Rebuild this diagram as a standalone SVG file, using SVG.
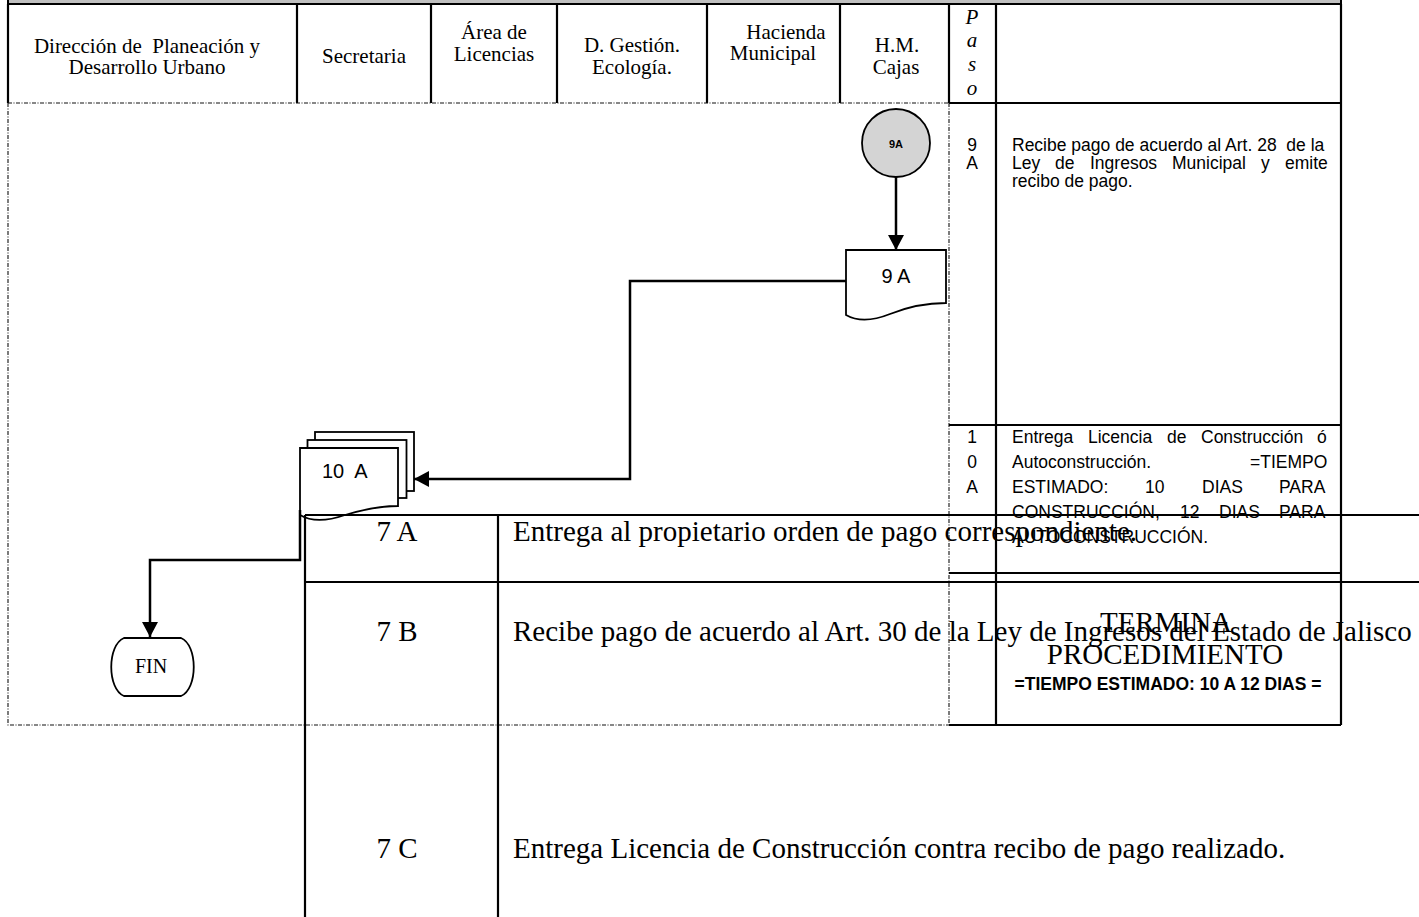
<svg xmlns="http://www.w3.org/2000/svg" width="1419" height="917" viewBox="0 0 1419 917">
<defs>
<style>
.hdr{font-family:"Liberation Serif","Times New Roman",serif;font-size:21px;text-anchor:middle;fill:#000;white-space:pre}
.it{font-style:italic}
.sans{font-family:"Liberation Sans",Arial,sans-serif;font-size:17.5px;fill:#000;white-space:pre}
.mid{text-anchor:middle}
.big{font-family:"Liberation Serif","Times New Roman",serif;font-size:29px;fill:#000;white-space:pre}
.ln{stroke:#000;stroke-width:2.2;fill:none}
.dot{stroke:#111;stroke-width:1.1;stroke-dasharray:4 1.5 1 1.5;fill:none}
.conn{stroke:#000;stroke-width:2.5;fill:none}
.shape{fill:#fff;stroke:#000;stroke-width:1.8}
</style>
<marker id="arr" markerUnits="userSpaceOnUse" markerWidth="16" markerHeight="16" refX="15" refY="8" orient="auto">
<path d="M0,0 L15,8 L0,16 Z" fill="#000"/>
</marker>
</defs>
<rect x="0" y="0" width="1419" height="917" fill="#fff"/>

<g id="header">
<rect x="8" y="-6" width="1333" height="10" fill="#c0c0c0" stroke="#000" stroke-width="2"/>
<path class="ln" d="M8,4 V103 M297,4 V103 M431,4 V103 M557,4 V103 M707,4 V103 M840,4 V103 M949,4 V103 M996,4 V103 M1341,4 V103 M949,103 H1341"/>
<text class="hdr" x="147" y="53">Dirección de  Planeación y</text>
<text class="hdr" x="147" y="74">Desarrollo Urbano</text>
<text class="hdr" x="364" y="63">Secretaria</text>
<text class="hdr" x="494" y="39">Área de</text>
<text class="hdr" x="494" y="61">Licencias</text>
<text class="hdr" x="632" y="52">D. Gestión.</text>
<text class="hdr" x="632" y="74">Ecología.</text>
<text class="hdr" x="786" y="39">Hacienda</text>
<text class="hdr" x="773" y="60">Municipal</text>
<text class="hdr" x="897" y="52">H.M.</text>
<text class="hdr" x="896" y="74">Cajas</text>
<text class="hdr it" x="972" y="24">P</text>
<text class="hdr it" x="972" y="47">a</text>
<text class="hdr it" x="972" y="71">s</text>
<text class="hdr it" x="972" y="95">o</text>
</g>

<g id="lanes">
<path class="dot" d="M8,103 H949 M8,103 V725 H949 M949,103 V725"/>
</g>

<g id="steps-table">
<path class="ln" d="M996,103 V725 M1341,103 V725 M949,425 H1341 M949,573 H1341 M949,725 H1341"/>
<text class="sans mid" x="972" y="151">9</text>
<text class="sans mid" x="972" y="169">A</text>
<text class="sans" x="1012" y="151">Recibe pago de acuerdo al Art. 28  de la</text>
<text class="sans" y="169"><tspan x="1012">Ley</tspan><tspan x="1055">de</tspan><tspan x="1090">Ingresos</tspan><tspan x="1172">Municipal</tspan><tspan x="1261">y</tspan><tspan x="1285">emite</tspan></text>
<text class="sans" x="1012" y="187">recibo de pago.</text>
<text class="sans mid" x="972" y="443">1</text>
<text class="sans mid" x="972" y="468">0</text>
<text class="sans mid" x="972" y="493">A</text>
<text class="sans" y="443"><tspan x="1012">Entrega</tspan><tspan x="1088">Licencia</tspan><tspan x="1167">de</tspan><tspan x="1201">Construcción</tspan><tspan x="1317">ó</tspan></text>
<text class="sans" y="468"><tspan x="1012">Autoconstrucción.</tspan><tspan x="1250">=TIEMPO</tspan></text>
<text class="sans" y="493"><tspan x="1012">ESTIMADO:</tspan><tspan x="1145">10</tspan><tspan x="1202">DIAS</tspan><tspan x="1279">PARA</tspan></text>
<text class="sans" y="518"><tspan x="1012">CONSTRUCCIÓN,</tspan><tspan x="1180">12</tspan><tspan x="1219">DIAS</tspan><tspan x="1279">PARA</tspan></text>
<text class="sans" x="1012" y="543">AUTOCONSTRUCCIÓN.</text>
<text class="big mid" x="1166" y="632">TERMINA</text>
<text class="big mid" x="1165" y="664">PROCEDIMIENTO</text>
<text class="sans mid" x="1168" y="690" style="font-weight:bold">=TIEMPO ESTIMADO: 10 A 12 DIAS =</text>
</g>

<g id="n-9A-connector">
<circle cx="896" cy="143" r="34" fill="#d4d4d4" stroke="#000" stroke-width="1.8"/>
<text class="sans mid" x="896" y="148" style="font-size:11px;font-weight:bold">9A</text>
</g>

<g id="n-9A-doc">
<path class="shape" d="M846,250 H946 V303 C925,303 905,308 890,314 C875,320 860,323 846,315 Z"/>
<text class="sans mid" x="896" y="283" style="font-size:20px">9 A</text>
</g>

<g id="n-10A-docs">
<rect class="shape" x="315" y="432" width="99" height="59"/>
<rect class="shape" x="307.5" y="440" width="99" height="58"/>
<path class="shape" d="M300,448 H398 V506 C380,506 365,509 345,515 C325,522 310,521 300,515 Z"/>
<text class="sans" x="322" y="478" style="font-size:20px">10  A</text>
</g>

<g id="n-FIN">
<path class="shape" d="M124,638 H181 C198,645 198,689 181,696 H124 C107,689 107,645 124,638 Z"/>
<text class="hdr" x="151" y="673" style="font-size:20px">FIN</text>
</g>

<g id="connectors">
<path class="conn" d="M896,177 V250" marker-end="url(#arr)"/>
<path class="conn" d="M846,281 H630 V479 H414" marker-end="url(#arr)"/>
<path class="conn" d="M300,510 V560 H150 V637" marker-end="url(#arr)"/>
</g>

<g id="overlay-table">
<path class="ln" d="M305,515 V917 M498,515 V917 M305,515 H1419 M305,582 H1419"/>
<text class="big mid" x="397" y="541">7 A</text>
<text class="big" x="513" y="541">Entrega al propietario orden de pago correspondiente.</text>
<text class="big mid" x="397" y="641">7 B</text>
<text class="big" x="513" y="641">Recibe pago de acuerdo al Art. 30 de la Ley de Ingresos del Estado de Jalisco</text>
<text class="big mid" x="397" y="858">7 C</text>
<text class="big" x="513" y="858">Entrega Licencia de Construcción contra recibo de pago realizado.</text>
</g>
</svg>
